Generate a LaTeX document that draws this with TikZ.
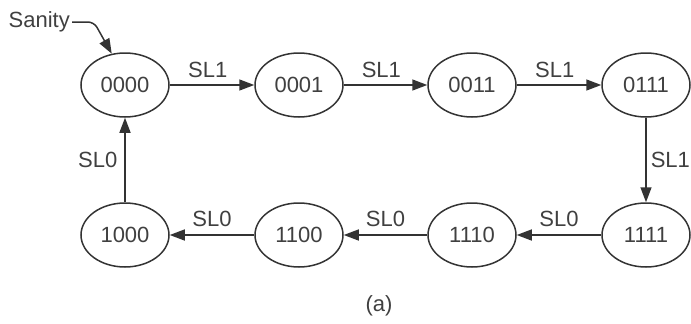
\documentclass[tikz,border=0pt]{standalone}
\usepackage{fontspec}
\setmainfont{Liberation Sans}
\usepackage{tikz}
\usetikzlibrary{arrows.meta, shapes.geometric}

\begin{document}
\begin{tikzpicture}[
  x=1pt, y=-1pt,
  state/.style={draw=black!80, line width=1.5pt, ellipse, minimum width=88pt, minimum height=64pt, inner sep=0pt, text=black!75, font=\fontsize{22}{26}\selectfont},
  lbl/.style={inner sep=2pt, text=black!75, font=\fontsize{22}{26}\selectfont},
  arr/.style={-{Triangle[length=15pt,width=11pt]}, line width=1.5pt, draw=black!80}
]
\useasboundingbox (0,0) rectangle (691,324);
% top row
\node[state] (s0000) at (125,85) {0000};
\node[state] (s0001) at (299,85) {0001};
\node[state] (s0011) at (472,85) {0011};
\node[state] (s0111) at (646,85) {0111};
% bottom row
\node[state] (s1000) at (125,235) {1000};
\node[state] (s1100) at (299,235) {1100};
\node[state] (s1110) at (472,235) {1110};
\node[state] (s1111) at (646,235) {1111};
\draw[arr] (s0000) -- node[lbl, above=5pt, pos=0.45] {SL1} (s0001);
\draw[arr] (s0001) -- node[lbl, above=5pt, pos=0.45] {SL1} (s0011);
\draw[arr] (s0011) -- node[lbl, above=5pt, pos=0.45] {SL1} (s0111);
\draw[arr] (s0111) -- node[lbl, right=2pt] {SL1} (s1111);
\draw[arr] (s1111) -- node[lbl, above=6pt] {SL0} (s1110);
\draw[arr] (s1110) -- node[lbl, above=6pt] {SL0} (s1100);
\draw[arr] (s1100) -- node[lbl, above=6pt] {SL0} (s1000);
\draw[arr] (s1000) -- node[lbl, left=5pt] {SL0} (s0000);
% reset entry
\node[lbl, anchor=east] (sanity) at (72,22) {Sanity};
\draw[arr, rounded corners=6pt] (sanity.east) -- ++(22,0) -- (s0000.113);
\node[lbl] (cap) at (379,306) {(a)};
\end{tikzpicture}
\end{document}
